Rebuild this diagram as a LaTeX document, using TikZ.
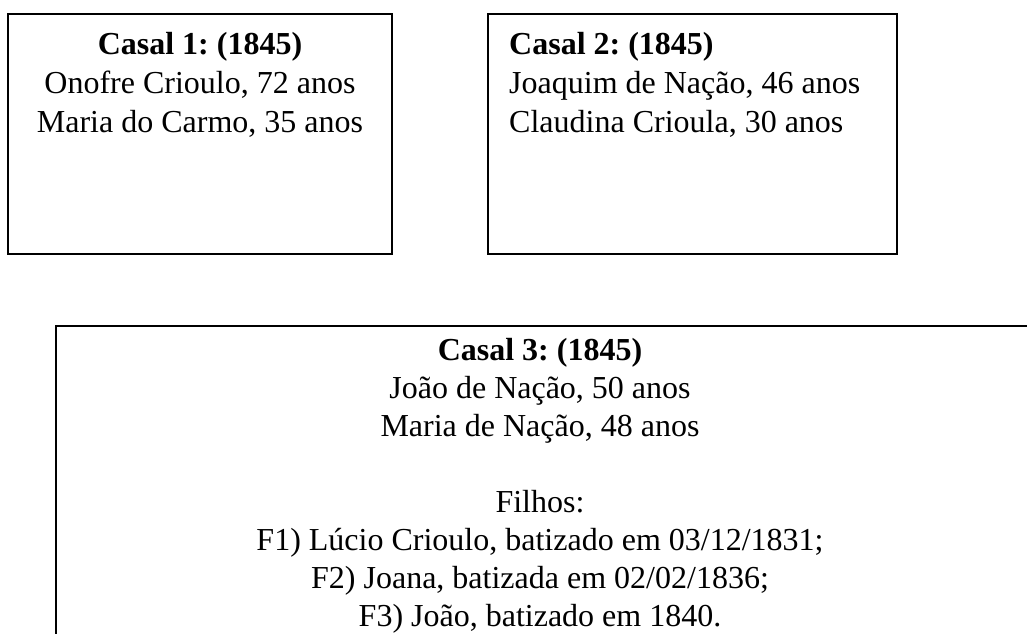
\documentclass[tikz,border=0pt]{standalone}
\usepackage{fontspec}
\setmainfont{Liberation Serif}
\frenchspacing
\tikzset{
  box/.style={draw=black, line width=1.6pt},
  txt/.style={inner sep=0pt, anchor=base, font=\fontsize{32}{38}\selectfont},
  ltxt/.style={txt, anchor=base west},
}
\begin{document}
\begin{tikzpicture}[x=1pt,y=-1pt]
\useasboundingbox (0,0) rectangle (1027,633);
\draw[box] (8,14) rectangle (392,254);
\draw[box] (488,14) rectangle (897,254);
\draw[box] (1040,326) -- (56,326) -- (56,650);
% Casal 1
\node[txt] (c1a) at (200,54) {\textbf{Casal 1: (1845)}};
\node[txt] (c1b) at (200,93) {Onofre Crioulo, 72 anos};
\node[txt] (c1c) at (200,132) {Maria do Carmo, 35 anos};
% Casal 2
\node[ltxt] (c2a) at (509,54) {\textbf{Casal 2: (1845)}};
\node[ltxt] (c2b) at (509,93) {Joaquim de Nação, 46 anos};
\node[ltxt] (c2c) at (509,132) {Claudina Crioula, 30 anos};
% Casal 3
\node[txt] (c3a) at (540,360) {\textbf{Casal 3: (1845)}};
\node[txt] (c3b) at (540,398) {João de Nação, 50 anos};
\node[txt] (c3c) at (540,436) {Maria de Nação, 48 anos};
\node[txt] (c3d) at (540,512) {Filhos:};
\node[txt] (c3e) at (540,550) {F1) Lúcio Crioulo, batizado em 03/12/1831;};
\node[txt] (c3f) at (540,588) {F2) Joana, batizada em 02/02/1836;};
\node[txt] (c3g) at (540,626) {F3) João, batizado em 1840.};
\end{tikzpicture}
\end{document}
